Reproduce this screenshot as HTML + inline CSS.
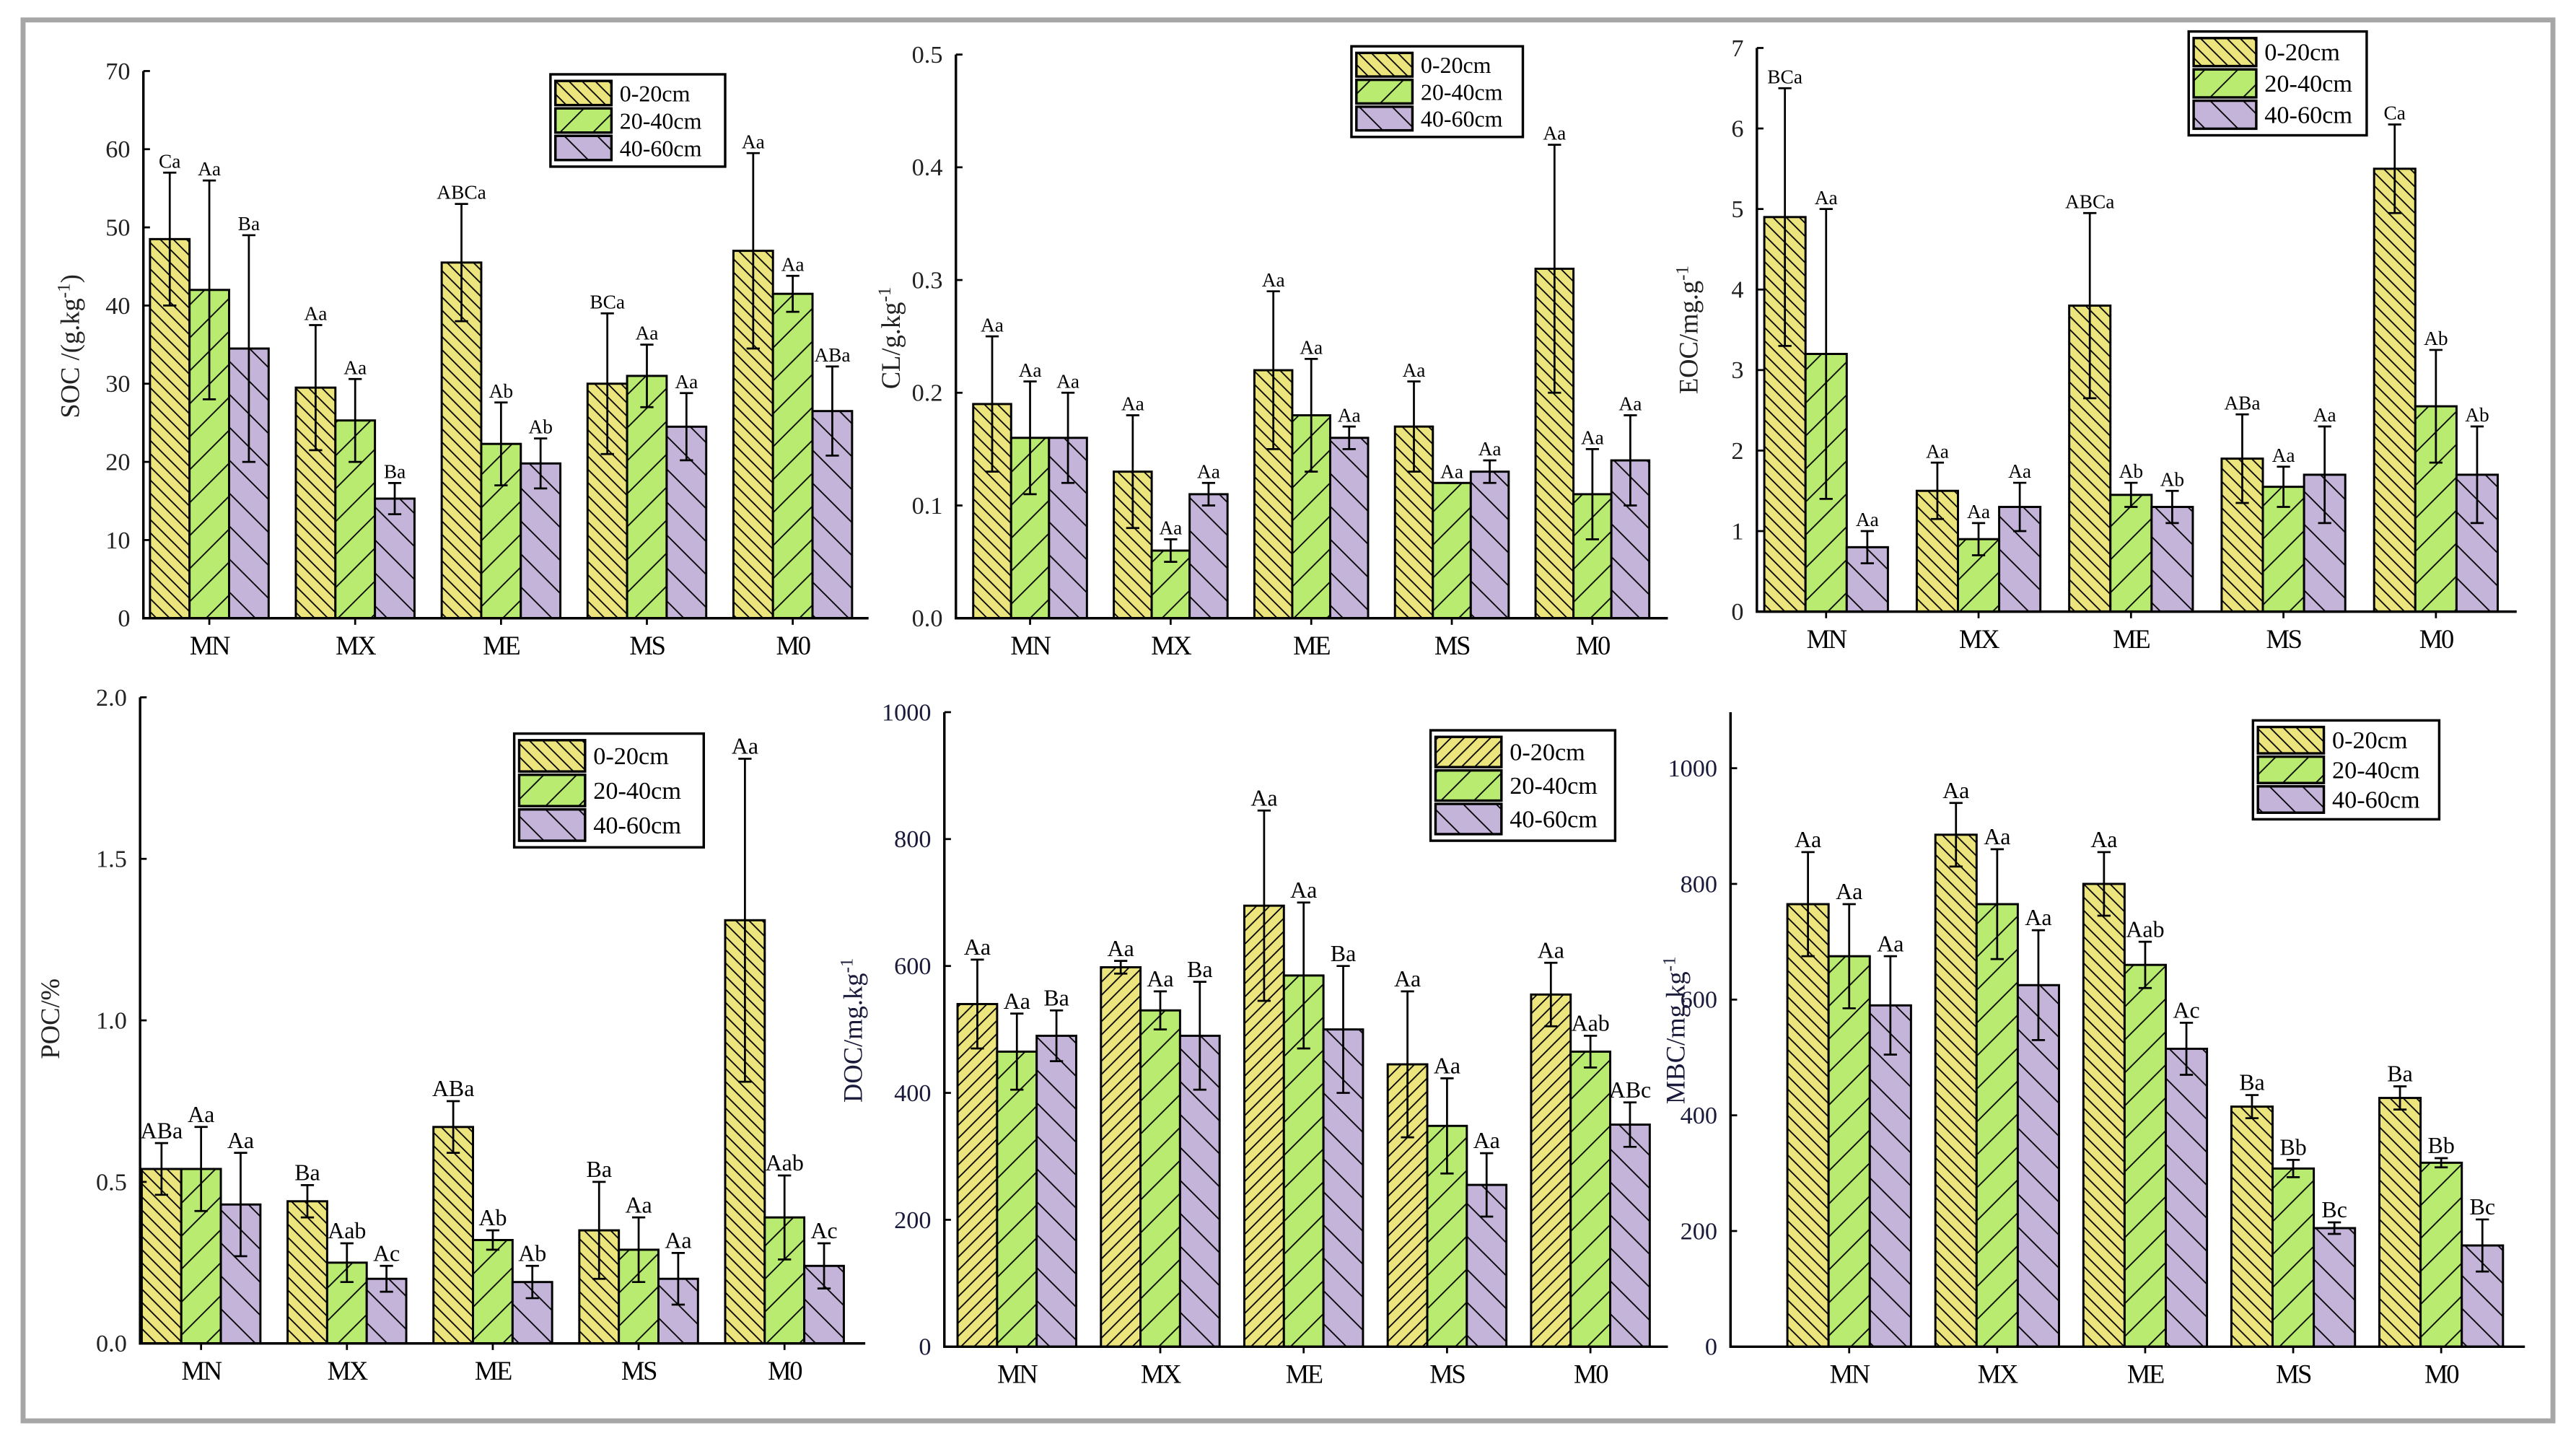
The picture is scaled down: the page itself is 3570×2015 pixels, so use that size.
<!DOCTYPE html>
<html><head><meta charset="utf-8">
<style>
html,body{margin:0;padding:0;background:#fff;}
svg{display:block;}
text{font-family:"Liberation Serif","DejaVu Serif",serif;}
</style></head>
<body>
<svg id="fig" width="3570" height="2015" viewBox="0 0 1563 882" xmlns="http://www.w3.org/2000/svg">
<defs>
<pattern id="hy" patternUnits="userSpaceOnUse" width="8" height="8"><rect width="8" height="8" fill="#ece47c"/><path d="M-2,-2 L10,10 M-2,6 L2,10 M6,-2 L10,2" stroke="#000" stroke-width="0.8"/></pattern>
<pattern id="hyf" patternUnits="userSpaceOnUse" width="8" height="8"><rect width="8" height="8" fill="#ece47c"/><path d="M-2,10 L10,-2 M-2,2 L2,-2 M6,10 L10,6" stroke="#000" stroke-width="0.8"/></pattern>
<pattern id="hg" patternUnits="userSpaceOnUse" width="20" height="20"><rect width="20" height="20" fill="#b8eb70"/><path d="M-5,25 L25,-5 M-5,5 L5,-5 M15,25 L25,15" stroke="#000" stroke-width="0.8"/></pattern>
<pattern id="hp" patternUnits="userSpaceOnUse" width="20" height="20"><rect width="20" height="20" fill="#c4b4d9"/><path d="M-5,-5 L25,25 M-5,15 L5,25 M15,-5 L25,5" stroke="#000" stroke-width="0.8"/></pattern>
</defs>
<rect x="14" y="12" width="1535" height="850" fill="none" stroke="#a6a6a6" stroke-width="3"/>
</svg>
<script>
const NS="http://www.w3.org/2000/svg";
const svg=document.getElementById('fig');
const categories=["MN","MX","ME","MS","M0"];
const seriesNames=["0-20cm","20-40cm","40-60cm"];

const socMean=[[48.5,29.5,45.5,30,47],[42,25.3,22.3,31,41.5],[34.5,15.3,19.8,24.5,26.5]];
const socErr=[[8.5,8,7.5,9,12.5],[14,5.3,5.3,4,2.3],[14.5,2,3.2,4.3,5.7]];
const socLbl=[["Ca","Aa","ABCa","BCa","Aa"],["Aa","Aa","Ab","Aa","Aa"],["Ba","Ba","Ab","Aa","ABa"]];
const socTicks=[0,10,20,30,40,50,60,70];

const clMean=[[0.19,0.13,0.22,0.17,0.31],[0.16,0.06,0.18,0.12,0.11],[0.16,0.11,0.16,0.13,0.14]];
const clErr=[[0.06,0.05,0.07,0.04,0.11],[0.05,0.01,0.05,0.0,0.04],[0.04,0.01,0.01,0.01,0.04]];
const clLbl=[["Aa","Aa","Aa","Aa","Aa"],["Aa","Aa","Aa","Aa","Aa"],["Aa","Aa","Aa","Aa","Aa"]];
const clTicks=[0,0.1,0.2,0.3,0.4,0.5];

const eocMean=[[4.9,1.5,3.8,1.9,5.5],[3.2,0.9,1.45,1.55,2.55],[0.8,1.3,1.3,1.7,1.7]];
const eocErr=[[1.6,0.35,1.15,0.55,0.55],[1.8,0.2,0.15,0.25,0.7],[0.2,0.3,0.2,0.6,0.6]];
const eocLbl=[["BCa","Aa","ABCa","ABa","Ca"],["Aa","Aa","Ab","Aa","Ab"],["Aa","Aa","Ab","Aa","Ab"]];
const eocTicks=[0,1,2,3,4,5,6,7];

const pocMean=[[0.54,0.44,0.67,0.35,1.31],[0.54,0.25,0.32,0.29,0.39],[0.43,0.2,0.19,0.2,0.24]];
const pocErr=[[0.08,0.05,0.08,0.15,0.5],[0.13,0.06,0.03,0.1,0.13],[0.16,0.04,0.05,0.08,0.07]];
const pocLbl=[["ABa","Ba","ABa","Ba","Aa"],["Aa","Aab","Ab","Aa","Aab"],["Aa","Ac","Ab","Aa","Ac"]];
const pocTicks=[0,0.5,1.0,1.5,2.0];

const docMean=[[540,598,695,445,555],[465,530,585,348,465],[490,490,500,255,350]];
const docErr=[[70,10,150,115,50],[60,30,115,75,25],[40,85,100,50,35]];
const docLbl=[["Aa","Aa","Aa","Aa","Aa"],["Aa","Aa","Aa","Aa","Aab"],["Ba","Ba","Ba","Aa","ABc"]];
const docTicks=[0,200,400,600,800,1000];

const mbcMean=[[765,885,800,415,430],[675,765,660,308,318],[590,625,515,205,175]];
const mbcErr=[[90,55,55,20,20],[90,95,40,15,8],[85,95,45,10,45]];
const mbcLbl=[["Aa","Aa","Aa","Ba","Ba"],["Aa","Aa","Aab","Bb","Bb"],["Aa","Aa","Ac","Bc","Bc"]];
const mbcTicks=[0,200,400,600,800,1000];

function mk(tag,attrs,parent){const e=document.createElementNS(NS,tag);for(const k in attrs)e.setAttribute(k,attrs[k]);(parent||svg).appendChild(e);return e;}

function panel(cfg,mean,err,lbl,ticks){
  const g=mk('g',{});
  
  
  const yS=v=>cfg.y0-(v-0)/(cfg.ymax)*(cfg.y0-cfg.yTopVal);
  const xC=i=>cfg.c0+i*cfg.sp;
  const fills=[cfg.yfill||'url(#hy)','url(#hg)','url(#hp)'];
  for(let s=0;s<3;s++){for(let i=0;i<categories.length;i++){
    const x=xC(i)+(s-1.5)*cfg.bw, y=yS(mean[s][i]);
    const r=mk('rect',{x:x,y:y,width:cfg.bw,height:cfg.y0-y,fill:fills[s],stroke:'#000','stroke-width':1.3},g);
    
    
    const cx=x+cfg.bw/2, yt=yS(mean[s][i]+err[s][i]), yb=yS(mean[s][i]-err[s][i]);
    const e=mk('path',{d:`M${cx},${yb}L${cx},${yt}M${cx-4},${yt}L${cx+4},${yt}M${cx-4},${yb}L${cx+4},${yb}`,stroke:'#000','stroke-width':1.2,fill:'none'},g);
    
    
    const t=mk('text',{x:cx,y:yt-3,'text-anchor':'middle','font-size':cfg.lfs,fill:'#000'},g);
    t.textContent=lbl[s][i];
    
    
  }}
  const ax=mk('path',{d:`M${cfg.ax},${cfg.axTop}L${cfg.ax},${cfg.y0}L${cfg.xEnd},${cfg.y0}`,stroke:'#000','stroke-width':1.5,fill:'none'},g);
  
  
  ticks.forEach(v=>{
    const y=yS(v);
    mk('line',{x1:cfg.ax,x2:cfg.ax+4,y1:y,y2:y,stroke:'#000','stroke-width':1.2},g);
    const t=mk('text',{x:cfg.ax-8,y:y+5,'text-anchor':'end','font-size':cfg.tfs,fill:cfg.tcol},g);
    t.textContent=cfg.fmt(v);
    
    
  });
  categories.forEach((c,i)=>{
    mk('line',{x1:xC(i),x2:xC(i),y1:cfg.y0,y2:cfg.y0+4,stroke:'#000','stroke-width':1.2},g);
    const t=mk('text',{x:xC(i),y:cfg.y0+22,'text-anchor':'middle','font-size':16,fill:'#000','letter-spacing':'-1'},g);
    t.textContent=c;
    
    
  });
  const yt=mk('text',{x:cfg.tx,y:cfg.ty,'text-anchor':'middle','font-size':16,fill:cfg.tcol,transform:`rotate(-90 ${cfg.tx} ${cfg.ty})`},g);
  yt.innerHTML=cfg.title;
  
  
  const L=cfg.leg;
  const lg=mk('g',{},g);
  
  
  mk('rect',{x:L.x,y:L.y,width:L.w,height:L.h,fill:'#fff',stroke:'#000','stroke-width':1.5},lg);
  const rh=(L.h-6)/3;
  for(let s=0;s<3;s++){
    const yy=L.y+3+s*rh;
    const sw=mk('rect',{x:L.x+3,y:yy+1,width:L.sw,height:rh-2,fill:fills[s],stroke:'#000','stroke-width':1.5},lg);
    
    
    const t=mk('text',{x:L.x+L.sw+8,y:yy+rh/2+5,'font-size':L.fs,fill:'#000'},lg);
    t.textContent=seriesNames[s];
    
    
  }
}
const f0=v=>String(v), f1=v=>v.toFixed(1);
panel({name:'soc',ax:87,axTop:43,y0:375,yTopVal:43,ymax:70,xEnd:527,c0:127,sp:88.5,bw:24,lfs:12,tfs:15,tcol:'#222',fmt:f0,
  tx:48,ty:210,title:'SOC /(g.kg<tspan baseline-shift="super" font-size="11">-1</tspan>)',
  leg:{x:334,y:45,w:106,h:56,sw:34,fs:14}},socMean,socErr,socLbl,socTicks);
panel({name:'cl',ax:580,axTop:33,y0:375,yTopVal:33,ymax:0.5,xEnd:1012,c0:625,sp:85.3,bw:23,lfs:12,tfs:15,tcol:'#222',fmt:f1,
  tx:546,ty:205,title:'CL/g.kg<tspan baseline-shift="super" font-size="11">-1</tspan>',
  leg:{x:820,y:28,w:104,h:55,sw:34,fs:14}},clMean,clErr,clLbl,clTicks);
panel({name:'eoc',ax:1066,axTop:29,y0:371,yTopVal:29,ymax:7,xEnd:1527,c0:1108,sp:92.5,bw:25,lfs:12,tfs:15,tcol:'#222',fmt:f0,
  tx:1030,ty:200,title:'EOC/mg.g<tspan baseline-shift="super" font-size="11">-1</tspan>',
  leg:{x:1328,y:19,w:108,h:63,sw:38,fs:15}},eocMean,eocErr,eocLbl,eocTicks);
panel({name:'poc',ax:85,axTop:423,y0:815,yTopVal:423,ymax:2.0,xEnd:525,c0:122,sp:88.5,bw:24,lfs:14,tfs:15,tcol:'#222',fmt:f1,
  tx:36,ty:618,title:'POC/%',
  leg:{x:312,y:445,w:115,h:69,sw:40,fs:15}},pocMean,pocErr,pocLbl,pocTicks);
panel({name:'doc',ax:573,axTop:432,y0:817,yTopVal:432,ymax:1000,xEnd:1012,c0:617,sp:87,bw:24,lfs:14,tfs:15,tcol:'#1a1a3a',fmt:f0,yfill:'url(#hyf)',
  tx:523,ty:625,title:'DOC/mg.kg<tspan baseline-shift="super" font-size="11">-1</tspan>',
  leg:{x:868,y:443,w:112,h:67,sw:40,fs:15}},docMean,docErr,docLbl,docTicks);
panel({name:'mbc',ax:1050,axTop:432,y0:817,yTopVal:466,ymax:1000,xEnd:1532,c0:1122,sp:89.8,bw:25,lfs:14,tfs:15,tcol:'#1a1a3a',fmt:f0,
  tx:1022,ty:625,title:'MBC/mg.kg<tspan baseline-shift="super" font-size="11">-1</tspan>',
  leg:{x:1367,y:437,w:113,h:60,sw:40,fs:15}},mbcMean,mbcErr,mbcLbl,mbcTicks);
</script>
</body></html>
